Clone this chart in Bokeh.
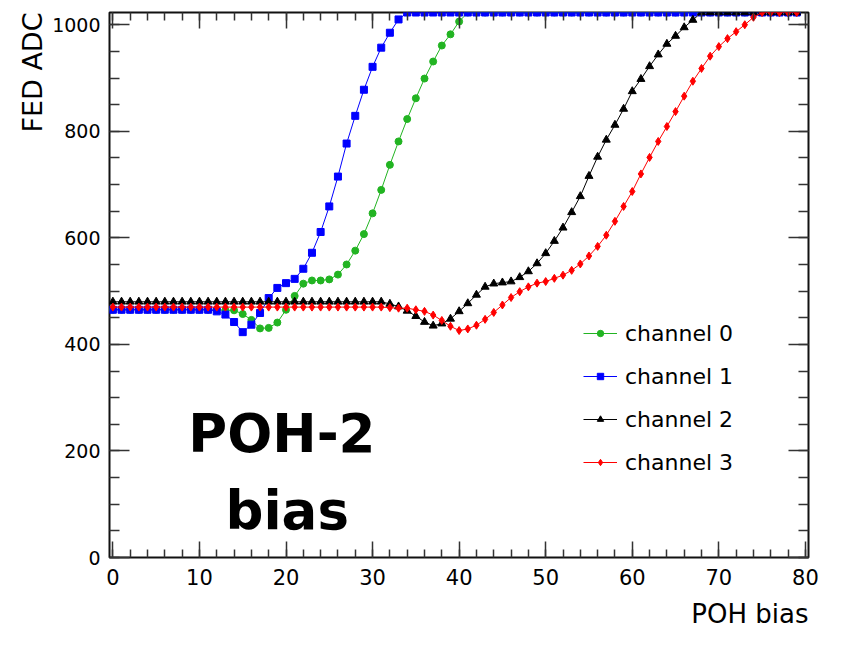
from bokeh.embed import file_html
from bokeh.models import (FixedTicker, Label, Legend, LegendItem, LinearAxis,
                          Range1d, Title)
from bokeh.plotting import figure
from bokeh.resources import INLINE

# POH bias scan: FED ADC readout per channel
poh_bias = list(range(80))

channel_0 = [465] * 13 + [
    464, 464, 457, 446, 430, 431, 441, 465, 491, 514, 520, 520, 522, 531,
    550, 576, 607, 646, 690, 737, 781, 823, 862, 899, 931, 961, 982, 1006,
] + [1023] * 39

channel_1 = [465] * 12 + [
    462, 456, 442, 423, 437, 459, 487, 506, 515, 523, 542, 572, 611, 659,
    715, 777, 829, 878, 921, 957, 985, 1010,
] + [1023] * 46

channel_2 = [480] * 32 + [
    476, 471, 463, 453, 442, 435, 439, 448, 462, 477, 493, 508, 514, 516,
    518, 526, 537, 552, 571, 594, 619, 648, 678, 716, 752, 784, 812, 842,
    875, 898, 922, 944, 964, 979, 995, 1009,
] + [1023] * 12

channel_3 = [470] * 32 + [
    469, 468, 468, 465, 462, 455, 445, 434, 426, 429, 436, 447, 460, 474,
    488, 499, 508, 515, 518, 524, 530, 539, 551, 566, 584, 605, 631, 659,
    687, 720, 751, 781, 809, 837, 866, 894, 918, 941, 959, 974, 987, 1000,
    1014,
] + [1023] * 5

channel_names = ["channel 0", "channel 1", "channel 2", "channel 3"]
x_major = list(range(0, 81, 10))
x_minor = list(range(0, 81, 2))
y_major = list(range(0, 1001, 200))
y_minor = list(range(0, 1001, 50))

FONT = "DejaVu Sans"

p = figure(
    width=847, height=645,
    x_range=Range1d(-0.39, 80.36), y_range=Range1d(0, 1023),
    output_backend="svg", toolbar_location=None,
    x_axis_location=None, y_axis_location=None,
    min_border_left=109, min_border_right=39,
    min_border_top=12, min_border_bottom=88,
)
p.grid.visible = False
p.outline_line_color = "#111111"
p.outline_line_width = 2
p.background_fill_color = "white"
p.border_fill_color = "white"


def make_axis(ticks, minor, tick_in, minor_in, label_size=None):
    ax = LinearAxis(ticker=FixedTicker(ticks=ticks, minor_ticks=minor))
    ax.axis_line_color = None
    ax.major_tick_in = tick_in
    ax.major_tick_out = 0
    ax.minor_tick_in = minor_in
    ax.minor_tick_out = 0
    ax.major_tick_line_color = "#333333"
    ax.minor_tick_line_color = "#333333"
    ax.major_tick_line_width = 1.5
    ax.minor_tick_line_width = 1.5
    if label_size:
        ax.major_label_text_font = FONT
        ax.major_label_text_font_size = label_size
        ax.major_label_text_color = "black"
    else:
        # mirrored ticks only: no tick labels on this side
        ax.major_label_text_font_size = "1px"
        ax.major_label_text_color = None
        ax.major_label_text_alpha = 0
        ax.major_label_standoff = 0
    return ax


x_axis = make_axis(x_major, x_minor, 16, 8, "21px")
x_axis.major_label_standoff = 11
y_axis = make_axis(y_major, y_minor, 20, 10, "19px")
y_axis.major_label_standoff = 9
p.add_layout(x_axis, "below")
p.add_layout(make_axis(x_major, x_minor, 16, 8), "above")
p.add_layout(y_axis, "left")
p.add_layout(make_axis(y_major, y_minor, 20, 10), "right")

# axis titles, flush with the top / right end of the frame
p.add_layout(Title(text="POH bias", align="right", text_font=FONT,
                   text_font_size="26px", text_font_style="normal",
                   text_color="black", standoff=18), "below")
p.add_layout(Title(text="FED ADC", align="right", text_font=FONT,
                   text_font_size="27px", text_font_style="normal",
                   text_color="black", standoff=3), "left")

series = [
    (channel_0, "#22b422", "circle", 7),
    (channel_1, "#0000ff", "square", 7),
    (channel_2, "#000000", "triangle", 8),
    (channel_3, "#ff0000", "diamond", 8),
]

items = []
for name, (vals, color, marker, size) in zip(channel_names, series):
    ln = p.line(poh_bias, vals, line_color=color, line_width=1)
    sc = p.scatter(poh_bias, vals, marker=marker, size=size,
                   fill_color=color, line_color=color, line_width=1)
    items.append(LegendItem(label=name, renderers=[ln, sc]))

legend = Legend(
    items=items, location=(474, 82),
    padding=0, margin=0, spacing=17,
    glyph_width=34, glyph_height=16, label_height=26, label_standoff=8,
    label_text_font=FONT, label_text_font_size="22px",
    label_text_color="black",
    border_line_color=None, background_fill_alpha=0,
)
p.add_layout(legend)

# panel caption
p.add_layout(Label(x=19.53, y=232.5, text="POH-2",
                   text_align="center", text_baseline="alphabetic",
                   text_font=FONT, text_font_style="bold",
                   text_font_size="53px", text_color="black"))
p.add_layout(Label(x=20.14, y=88.7, text="bias",
                   text_align="center", text_baseline="alphabetic",
                   text_font=FONT, text_font_style="bold",
                   text_font_size="53px", text_color="black"))

open("out.html", "w").write(file_html(p, INLINE))
